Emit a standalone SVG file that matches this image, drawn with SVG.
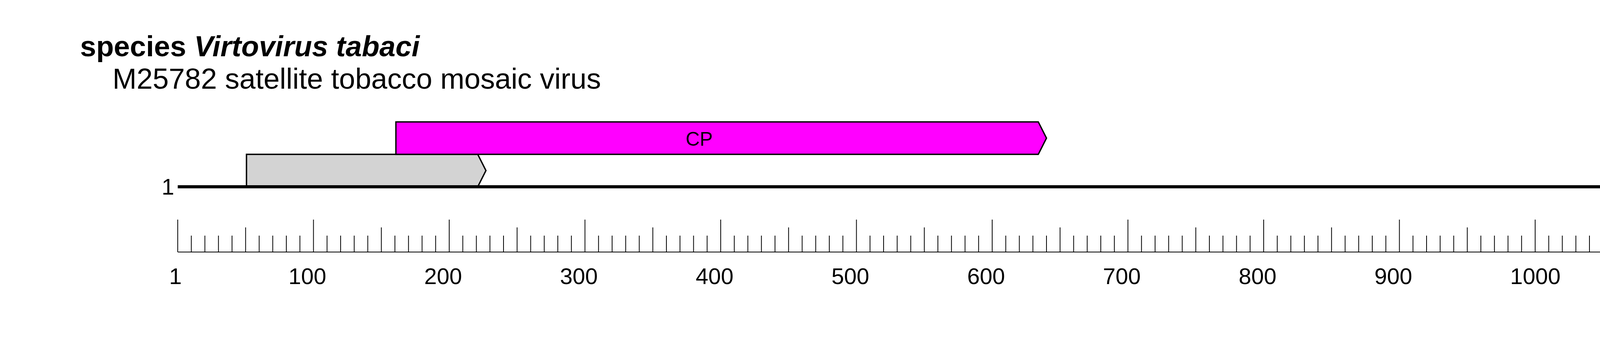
<svg xmlns="http://www.w3.org/2000/svg" width="4836" height="929" viewBox="0 0 4836 929">
<style>
text{font-family:"Liberation Sans",Arial,sans-serif;fill:#000}
.t{font-size:74px}
.n{font-size:58px}
.g{stroke:#000;stroke-width:3.5;stroke-linejoin:miter}
.tk{stroke:#000;stroke-width:2;fill:none}
</style>
<rect width="4836" height="929" fill="#fff"/>
<g id="title">
<text class="t" x="205" y="144" font-weight="bold">species <tspan font-style="italic">Virtovirus tabaci</tspan></text>
<text class="t" x="288" y="227">M25782 satellite tobacco mosaic virus</text>
</g>
<g id="gene-gray">
<polygon class="g" fill="#D3D3D3" points="631,395 1223,395 1244,436.5 1223,478 631,478"/>
</g>
<g id="gene-CP">
<polygon class="g" fill="#FF00FF" points="1013.5,312 2658,312 2679,353.5 2658,395 1013.5,395"/>
<text x="1790" y="373" font-size="50" text-anchor="middle">CP</text>
</g>
<g id="sequence">
<line x1="455" y1="478" x2="4128" y2="478" stroke="#000" stroke-width="8"/>
<text class="n" x="446" y="498" text-anchor="end">1</text>
<text class="n" x="4169" y="498">1058</text>
</g>
<g id="ruler">
<line class="tk" x1="455" y1="645" x2="4625" y2="645"/>
<path class="tk" d="M455 645V562M802.5 645V562M1150 645V562M1497.5 645V562M1845 645V562M2192.5 645V562M2540 645V562M2887.5 645V562M3235 645V562M3582.5 645V562M3930 645V562M4277.5 645V562M4625 645V562"/>
<path class="tk" d="M628.75 645V582M976.25 645V582M1323.75 645V582M1671.25 645V582M2018.75 645V582M2366.25 645V582M2713.75 645V582M3061.25 645V582M3408.75 645V582M3756.25 645V582M4103.75 645V582M4451.25 645V582"/>
<path class="tk" d="M489.75 645V603M524.5 645V603M559.25 645V603M594 645V603M663.5 645V603M698.25 645V603M733 645V603M767.75 645V603M837.25 645V603M872 645V603M906.75 645V603M941.5 645V603M1011 645V603M1045.75 645V603M1080.5 645V603M1115.25 645V603M1184.75 645V603M1219.5 645V603M1254.25 645V603M1289 645V603M1358.5 645V603M1393.25 645V603M1428 645V603M1462.75 645V603M1532.25 645V603M1567 645V603M1601.75 645V603M1636.5 645V603M1706 645V603M1740.75 645V603M1775.5 645V603M1810.25 645V603M1879.75 645V603M1914.5 645V603M1949.25 645V603M1984 645V603M2053.5 645V603M2088.25 645V603M2123 645V603M2157.75 645V603M2227.25 645V603M2262 645V603M2296.75 645V603M2331.5 645V603M2401 645V603M2435.75 645V603M2470.5 645V603M2505.25 645V603M2574.75 645V603M2609.5 645V603M2644.25 645V603M2679 645V603M2748.5 645V603M2783.25 645V603M2818 645V603M2852.75 645V603M2922.25 645V603M2957 645V603M2991.75 645V603M3026.5 645V603M3096 645V603M3130.75 645V603M3165.5 645V603M3200.25 645V603M3269.75 645V603M3304.5 645V603M3339.25 645V603M3374 645V603M3443.5 645V603M3478.25 645V603M3513 645V603M3547.75 645V603M3617.25 645V603M3652 645V603M3686.75 645V603M3721.5 645V603M3791 645V603M3825.75 645V603M3860.5 645V603M3895.25 645V603M3964.75 645V603M3999.5 645V603M4034.25 645V603M4069 645V603M4138.5 645V603M4173.25 645V603M4208 645V603M4242.75 645V603M4312.25 645V603M4347 645V603M4381.75 645V603M4416.5 645V603M4486 645V603M4520.75 645V603M4555.5 645V603M4590.25 645V603"/>
<text class="n" x="433" y="727">1</text>
<text class="n" x="738.5" y="727">100</text>
<text class="n" x="1086" y="727">200</text>
<text class="n" x="1433.5" y="727">300</text>
<text class="n" x="1781" y="727">400</text>
<text class="n" x="2128.5" y="727">500</text>
<text class="n" x="2476" y="727">600</text>
<text class="n" x="2823.5" y="727">700</text>
<text class="n" x="3171" y="727">800</text>
<text class="n" x="3518.5" y="727">900</text>
<text class="n" x="3866" y="727">1000</text>
<text class="n" x="4213.5" y="727">1100</text>
<text class="n" x="4561" y="727">1200</text>
</g>
</svg>
